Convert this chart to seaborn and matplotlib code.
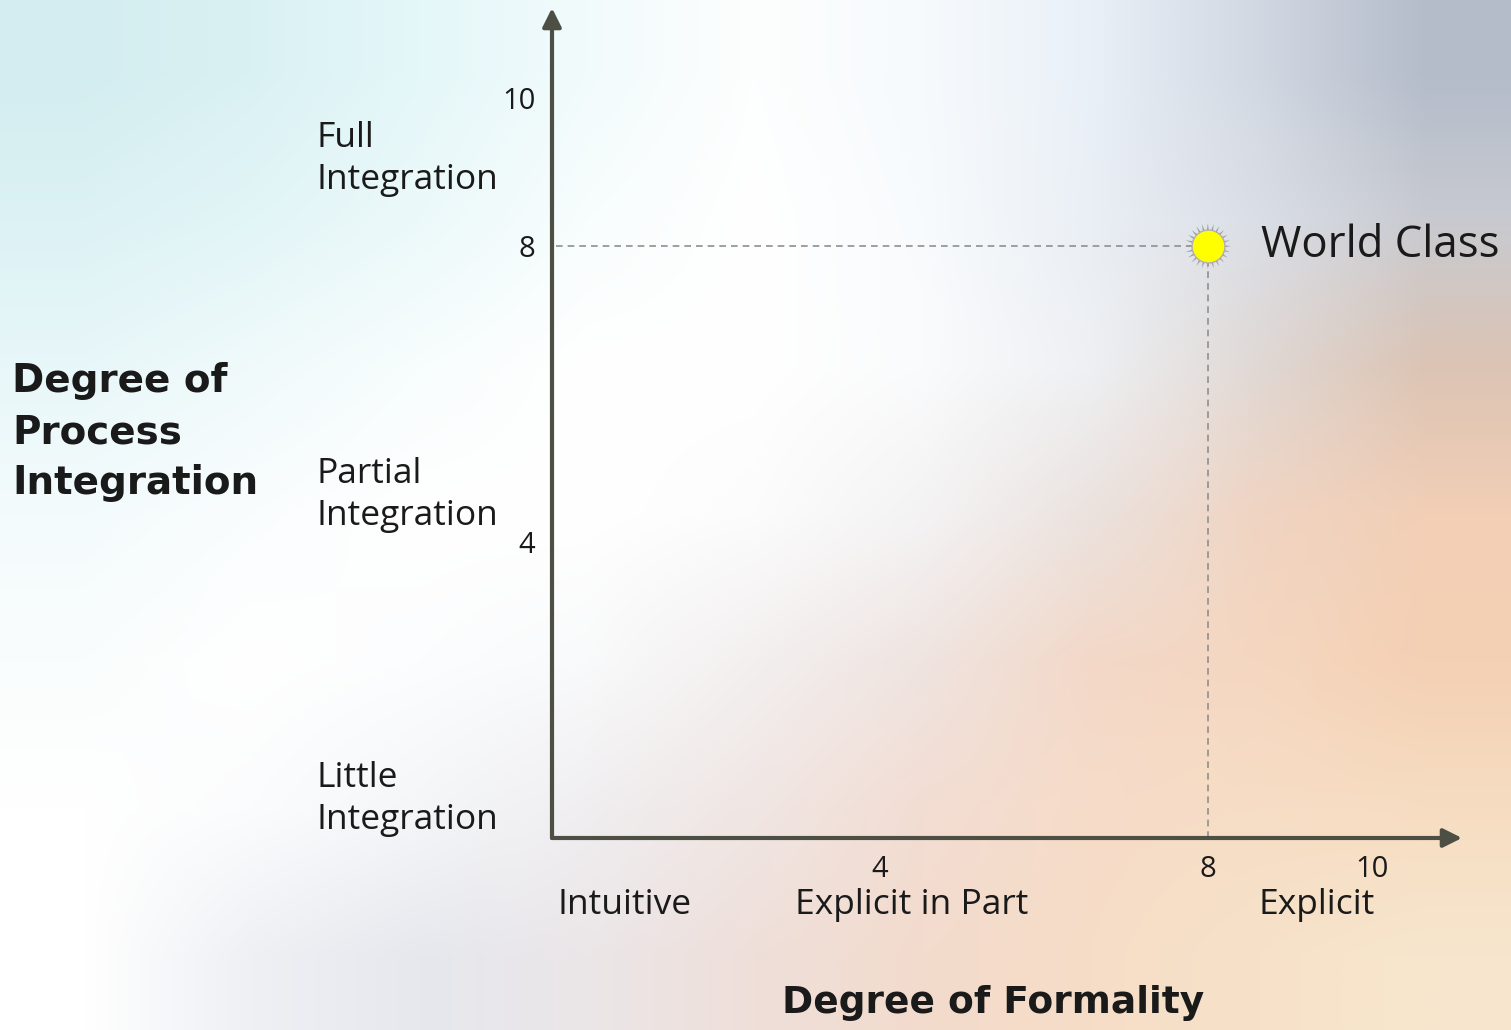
import numpy as np
import pandas as pd
from matplotlib import pyplot as plt
from matplotlib import transforms
import seaborn as sns

# chart content
point_x = [8]
point_y = [8]
point_label = 'World Class'
x_ticks = [4, 8, 10]
y_ticks = [4, 8, 10]
x_categories = ['Intuitive', 'Explicit in Part', 'Explicit']
y_categories = ['Full\nIntegration', 'Partial\nIntegration', 'Little\nIntegration']
x_title = 'Degree of Formality'
y_title = 'Degree of\nProcess\nIntegration'

sns.set_style('white')
plt.rcParams['font.family'] = ['Open Sans', 'DejaVu Sans']

W, H = 1511, 1030
fig = plt.figure(figsize=(W / 100, H / 100), dpi=100)

# soft gradient backdrop (slide background), rows top -> bottom
bg_colors = [
    ['#d4edf0', '#daf1f3', '#e4f7f9', '#f2fbfc', '#fdfefe', '#f6fafd', '#eaf0f8', '#d2d8e2', '#b4bcca'],
    ['#dcf2f4', '#e2f5f7', '#ecf9fa', '#f8fdfd', '#ffffff', '#f8fbfd', '#eaeff5', '#dadee6', '#c8cad0'],
    ['#e8f7f9', '#f0fafb', '#f8fdfd', '#ffffff', '#ffffff', '#fafbfc', '#eef0f3', '#e0d8d4', '#dcc4b4'],
    ['#f4fbfc', '#fafdfe', '#ffffff', '#ffffff', '#fcfcfd', '#f4f3f4', '#ebe2de', '#f0d4c2', '#f2cfb6'],
    ['#fafdfd', '#ffffff', '#fcfdfe', '#f9fafb', '#f3efef', '#efe4e0', '#f3d8c8', '#f5d7c0', '#f4d0b4'],
    ['#ffffff', '#fbfcfd', '#f4f6f8', '#f0eef0', '#f0e6e3', '#f3ddd3', '#f6dcc9', '#f7ddc5', '#f6ddc2'],
    ['#ffffff', '#eef0f4', '#e6e8ee', '#ebe6e8', '#efdfd9', '#f3dbcd', '#f6ddc7', '#f7e2c9', '#f7e6cd'],
]
rgb = np.array([[plt.matplotlib.colors.to_rgb(c) for c in row] for row in bg_colors])
bg = fig.add_axes([0, 0, 1, 1])
bg.imshow(rgb, extent=[0, 1, 0, 1], aspect='auto', interpolation='bilinear')
bg.axis('off')

ax = fig.add_axes([552 / W, 192 / H, 910 / W, 830 / H])
ax.patch.set_alpha(0)
ax.set_xlim(0, 11.1)
ax.set_ylim(0, 11.22)
for s in ax.spines.values():
    s.set_visible(False)

axis_color = '#4d4f45'
ax.annotate('', xy=(11.1, 0), xytext=(0, 0),
            arrowprops=dict(arrowstyle='-|>', color=axis_color, lw=3, mutation_scale=28, shrinkA=0, shrinkB=0),
            annotation_clip=False)
ax.annotate('', xy=(0, 11.22), xytext=(0, 0),
            arrowprops=dict(arrowstyle='-|>', color=axis_color, lw=3, mutation_scale=28, shrinkA=0, shrinkB=0),
            annotation_clip=False)

# guide lines to the point
ax.plot([0.05, point_x[0]], [point_y[0], point_y[0]], ls=(0, (4, 3)), color='#8e9090', lw=1.2)
ax.plot([point_x[0], point_x[0]], [0, point_y[0]], ls=(0, (4, 3)), color='#8e9090', lw=1.2)

df = pd.DataFrame({'x': point_x, 'y': point_y})
sns.scatterplot(data=df, x='x', y='y', marker=(24, 1, 0), s=1100, color='#9a9a9a', edgecolor='none', ax=ax, zorder=5)
sns.scatterplot(data=df, x='x', y='y', marker='o', s=560, color='#ffff00', edgecolor='#b0b0b0', linewidth=1, ax=ax, zorder=6)
ax.text(point_x[0] + 0.65, point_y[0], point_label, fontsize=31.5, va='center', ha='left', color='#1a1a1a')

ax.set_xticks(x_ticks)
ax.set_xticklabels([str(t) for t in x_ticks], fontsize=21, color='#1a1a1a')
ax.set_yticks(y_ticks)
ax.set_yticklabels([str(t) for t in y_ticks], fontsize=21, color='#1a1a1a')
ax.tick_params(axis='both', length=0)
ax.tick_params(axis='x', pad=12)
ax.tick_params(axis='y', pad=12)
ax.set_xlabel('')
ax.set_ylabel('')

# category names under the x axis
xtrans = transforms.blended_transform_factory(ax.transData, fig.transFigure)
for label, cx in zip(x_categories, [0.88, 4.39, 9.33]):
    ax.text(cx, 1 - 905 / H, label, transform=xtrans, fontsize=25.5, ha='center', va='center', color='#1a1a1a')

# category names left of the y axis
for label, cy in zip(y_categories, [159, 495, 799]):
    fig.text(317 / W, 1 - cy / H, label, fontsize=25.5, ha='left', va='center', color='#1a1a1a', linespacing=1.3)

fig.text(12 / W, 1 - 432 / H, y_title, fontsize=28, fontweight='bold', family='DejaVu Sans',
         ha='left', va='center', color='#1a1a1a', linespacing=1.44)
fig.text(993 / W, 1 - 1003 / H, x_title, fontsize=27, fontweight='bold', family='DejaVu Sans',
         ha='center', va='center', color='#1a1a1a')

fig.savefig('out.png', dpi=100)
